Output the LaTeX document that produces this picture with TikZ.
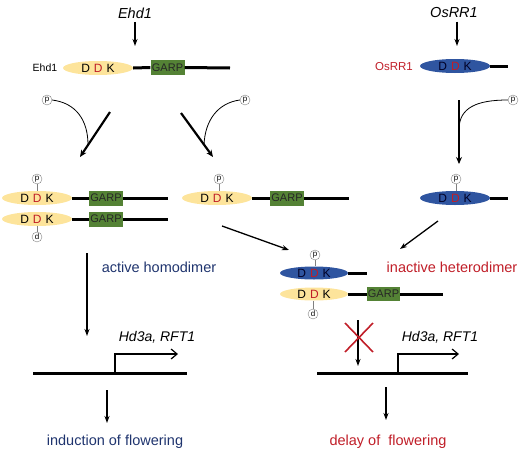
\documentclass[tikz,border=0pt]{standalone}
\usepackage{fontspec}
\setmainfont{Liberation Sans}
\usetikzlibrary{shapes.geometric,arrows.meta}
\definecolor{yel}{RGB}{253,228,155}
\definecolor{blu}{RGB}{47,85,160}
\definecolor{grn}{RGB}{84,130,53}
\definecolor{dred}{RGB}{192,30,40}
\definecolor{navy}{RGB}{31,52,110}
\newcommand{\ddk}{D\hspace{4pt}\textcolor{dred}{D}\hspace{4pt}K}
\begin{document}
\begin{tikzpicture}[x=1pt,y=-1pt,
  yelell/.style={ellipse,fill=yel,minimum width=70pt,minimum height=14pt,inner sep=0pt,font=\fontsize{12}{13}\selectfont},
  bluell/.style={ellipse,fill=blu,minimum width=70pt,minimum height=14pt,inner sep=0pt,font=\fontsize{12}{13}\selectfont,text=black!85!blue},
  garp/.style={fill=grn,minimum width=34pt,minimum height=15pt,inner sep=0pt,font=\fontsize{11}{12}\selectfont,text=black!85},
  pcirc/.style={circle,draw=gray,fill=white,minimum size=10pt,inner sep=0pt,font=\fontsize{8}{8}\selectfont},
  bb/.style={line width=3pt},
  thk/.style={line width=2.2pt,-{Stealth[length=7pt,width=6pt]}},
  arr/.style={line width=1.3pt,-{Stealth[length=7pt,width=5pt]}},
  tie/.style={draw=gray,line width=0.6pt},
  curv/.style={line width=0.8pt},
  title/.style={font=\fontsize{14.5}{16}\selectfont\itshape},
  lab/.style={font=\fontsize{14.5}{16}\selectfont},
  gene/.style={font=\fontsize{14}{16}\selectfont\itshape}]
\useasboundingbox (0,0) rectangle (520,450);
% ---- top: Ehd1
\node[title] (tE) at (135,13) {Ehd1};
\coordinate (aE) at (135,46);
\draw[arr] (tE.south) -- (aE);
\node[font=\fontsize{10.5}{12}\selectfont] (lE) at (45,68) {Ehd1};
\node[yelell] (e0) at (98,68) {\ddk};
\node[garp] (g0) at (167.5,67.5) {GARP};
\coordinate (z0) at (230,68);
\draw[bb] (e0.east) -- (g0.west);
\draw[bb] (g0.east) -- (z0);
% ---- top: OsRR1
\node[title] (tO) at (454,13) {OsRR1};
\coordinate (aO) at (457,46);
\draw[arr] (tO.south -| aO) -- (aO);
\node[font=\fontsize{11.5}{12}\selectfont,text=dred] (lO) at (394,67) {OsRR1};
\node[bluell] (o0) at (455,66) {\ddk};
\coordinate (zo) at (508,66);
\draw[bb] (o0.east) -- (zo);
% ---- phosphorylation arrows
\coordinate (sL) at (110,112); \coordinate (eL) at (80,157);
\draw[thk] (sL) -- (eL);
\node[pcirc] (pL) at (47,100) {p};
\coordinate (jL) at (88,145);
\draw[curv] (pL.east) .. controls (76,103) and (88,120) .. (jL);
\coordinate (sR) at (181,113); \coordinate (eR) at (213,157);
\draw[thk] (sR) -- (eR);
\node[pcirc] (pR) at (245,100) {p};
\coordinate (jR) at (204,145);
\draw[curv] (pR.west) .. controls (218,103) and (205,120) .. (jR);
\coordinate (sV) at (459,100); \coordinate (eV) at (459,164);
\draw[thk] (sV) -- (eV);
\node[pcirc] (pV) at (513,100) {p};
\coordinate (jV) at (459,128);
\draw[curv] (pV.west) .. controls (476,100) and (460,108) .. (jV);
% ---- row 2 left homodimer
\node[yelell] (a1) at (37,198) {\ddk};
\node[garp] (ga1) at (106,198) {GARP};
\coordinate (za1) at (168,198);
\draw[bb] (a1.east) -- (ga1.west); \draw[bb] (ga1.east) -- (za1);
\node[pcirc] (pa1) at (37,179) {p};
\draw[tie] (pa1.south) -- (a1.north);
\node[yelell] (a2) at (37,219) {\ddk};
\node[garp] (ga2) at (106,219) {GARP};
\coordinate (za2) at (168,219);
\draw[bb] (a2.east) -- (ga2.west); \draw[bb] (ga2.east) -- (za2);
\node[pcirc] (pa2) at (37,237) {d};
\draw[tie] (pa2.north) -- (a2.south);
% ---- row 2 middle
\node[yelell] (m1) at (217,198) {\ddk};
\node[garp] (gm1) at (287,198) {GARP};
\coordinate (zm1) at (349,198);
\draw[bb] (m1.east) -- (gm1.west); \draw[bb] (gm1.east) -- (zm1);
\node[pcirc] (pm1) at (219,179) {p};
\draw[tie] (pm1.south) -- (m1.north -| pm1);
% ---- row 2 right
\node[bluell] (r1) at (455,198) {\ddk};
\coordinate (zr1) at (508,198);
\draw[bb] (r1.east) -- (zr1);
\node[pcirc] (pr1) at (456,179) {p};
\draw[tie] (pr1.south) -- (r1.north -| pr1);
% ---- converging arrows
\coordinate (c1s) at (222,226); \coordinate (c1e) at (289,250);
\draw[arr] (c1s) -- (c1e);
\coordinate (c2s) at (438,221); \coordinate (c2e) at (400,249);
\draw[arr] (c2s) -- (c2e);
% ---- heterodimer
\node[bluell,minimum width=68pt,minimum height=13pt] (h1) at (314,273) {\ddk};
\coordinate (zh1) at (367,273);
\draw[bb] (h1.east) -- (zh1);
\node[pcirc] (ph1) at (315,255) {p};
\draw[tie] (ph1.south) -- (h1.north -| ph1);
\node[yelell,minimum width=68pt,minimum height=13pt] (h2) at (314,294) {\ddk};
\node[garp,minimum width=33pt,minimum height=14pt] (gh2) at (383.5,294) {GARP};
\coordinate (zh2) at (443,294);
\draw[bb] (h2.east) -- (gh2.west); \draw[bb] (gh2.east) -- (zh2);
\node[pcirc] (ph2) at (313,314) {d};
\draw[tie] (ph2.north) -- (h2.south -| ph2);
% ---- labels
\node[lab,text=navy] (act) at (159,267) {active homodimer};
\node[lab,text=dred] (inact) at (452,267) {inactive heterodimer};
% ---- left promoter
\coordinate (la) at (87,253); \coordinate (lb) at (87,336);
\draw[arr] (la) -- (lb);
\coordinate (pl1) at (33,373); \coordinate (pl2) at (187,373);
\draw[bb] (pl1) -- (pl2);
\coordinate (tl0) at (115,373); \coordinate (tl1) at (115,354); \coordinate (tl2) at (178,354);
\draw[line width=1.2pt,-{Straight Barb[length=6pt,width=10pt]}] (tl0) -- (tl1) -- (tl2);
\node[gene] (gl) at (157,337) {Hd3a, RFT1};
\coordinate (dl1) at (107,390); \coordinate (dl2) at (107,423);
\draw[arr] (dl1) -- (dl2);
\node[lab,text=navy] (ind) at (115,442) {induction of flowering};
% ---- right promoter
\coordinate (ra) at (358,320); \coordinate (rb) at (358,366);
\draw[arr] (ra) -- (rb);
\coordinate (x1) at (345,323); \coordinate (x2) at (373,352);
\coordinate (x3) at (373,323); \coordinate (x4) at (345,352);
\draw[dred,line width=1.6pt] (x1) -- (x2) (x3) -- (x4);
\coordinate (pr1a) at (317,373); \coordinate (pr2a) at (468,373);
\draw[bb] (pr1a) -- (pr2a);
\coordinate (tr0) at (398,373); \coordinate (tr1) at (398,354); \coordinate (tr2) at (459,354);
\draw[line width=1.2pt,-{Straight Barb[length=6pt,width=10pt]}] (tr0) -- (tr1) -- (tr2);
\node[gene] (gr) at (440,337) {Hd3a, RFT1};
\coordinate (dr1) at (386,387); \coordinate (dr2) at (386,420);
\draw[arr] (dr1) -- (dr2);
\node[lab,text=dred] (del) at (388,442) {delay of\ \ flowering};
\end{tikzpicture}
\end{document}
